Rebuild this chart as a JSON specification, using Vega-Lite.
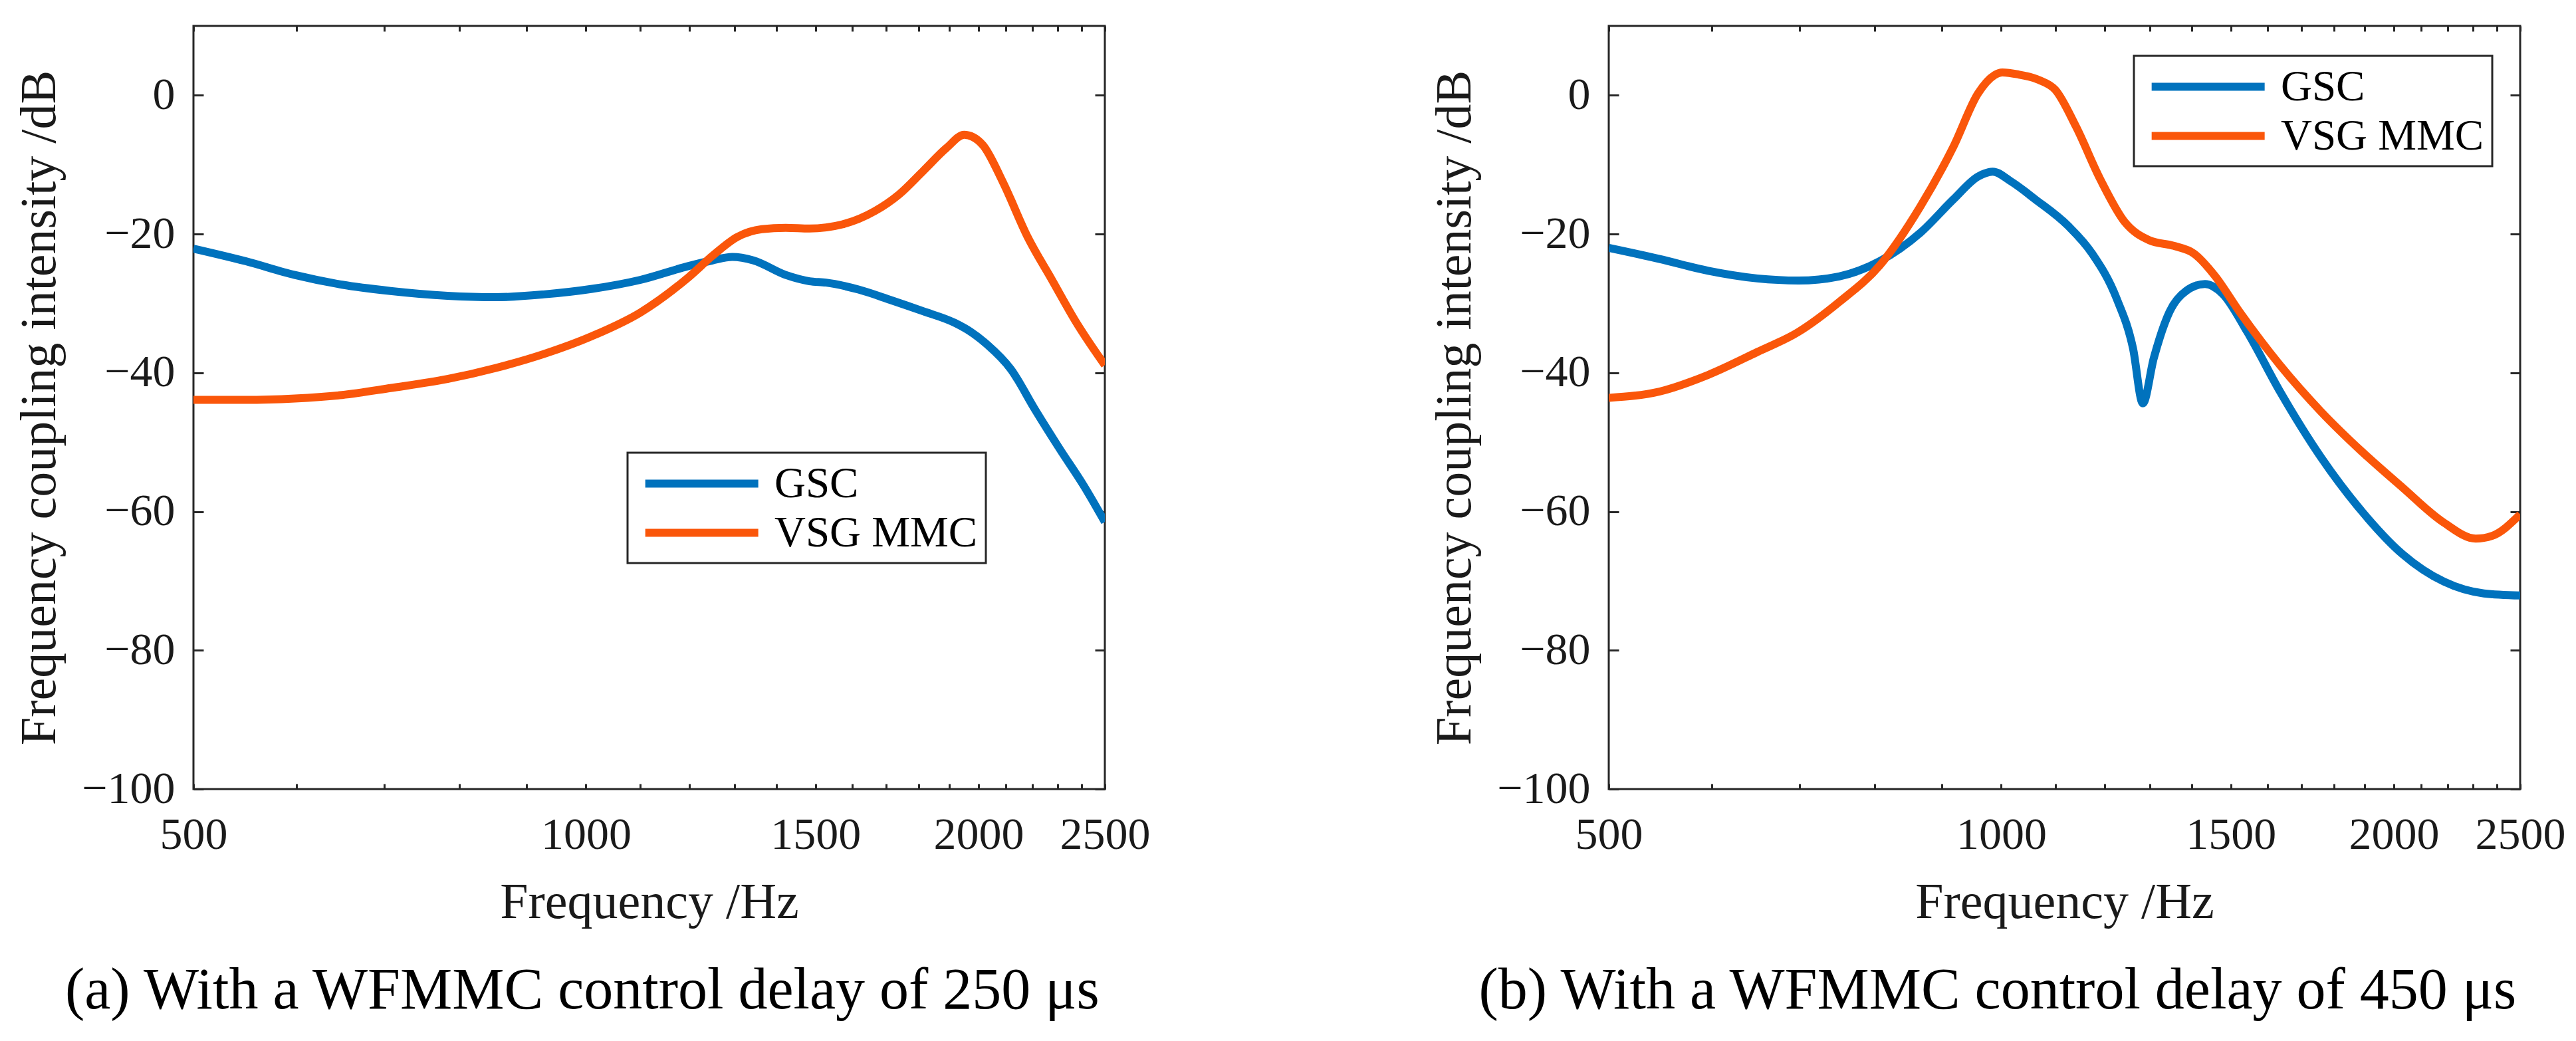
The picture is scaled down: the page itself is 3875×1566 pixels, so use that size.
{
  "$schema": "https://vega.github.io/schema/vega-lite/v6.json",
  "padding": {"left": 20, "top": 36, "right": 10, "bottom": 10},
  "background": "white",
  "datasets": {
    "curves": [
      {"panel": "a", "series": "GSC", "f": 500, "v": -22.1},
      {"panel": "a", "series": "GSC", "f": 548, "v": -23.9},
      {"panel": "a", "series": "GSC", "f": 598, "v": -25.9},
      {"panel": "a", "series": "GSC", "f": 650, "v": -27.3},
      {"panel": "a", "series": "GSC", "f": 708, "v": -28.2},
      {"panel": "a", "series": "GSC", "f": 783, "v": -28.9},
      {"panel": "a", "series": "GSC", "f": 853, "v": -29.1},
      {"panel": "a", "series": "GSC", "f": 928, "v": -28.7},
      {"panel": "a", "series": "GSC", "f": 1011, "v": -27.9},
      {"panel": "a", "series": "GSC", "f": 1101, "v": -26.6},
      {"panel": "a", "series": "GSC", "f": 1199, "v": -24.6},
      {"panel": "a", "series": "GSC", "f": 1250, "v": -23.8},
      {"panel": "a", "series": "GSC", "f": 1295, "v": -23.3},
      {"panel": "a", "series": "GSC", "f": 1344, "v": -23.8},
      {"panel": "a", "series": "GSC", "f": 1423, "v": -25.9},
      {"panel": "a", "series": "GSC", "f": 1484, "v": -26.8},
      {"panel": "a", "series": "GSC", "f": 1528, "v": -27.0},
      {"panel": "a", "series": "GSC", "f": 1618, "v": -28.0},
      {"panel": "a", "series": "GSC", "f": 1712, "v": -29.5},
      {"panel": "a", "series": "GSC", "f": 1812, "v": -31.1},
      {"panel": "a", "series": "GSC", "f": 1918, "v": -32.8},
      {"panel": "a", "series": "GSC", "f": 1973, "v": -34.1},
      {"panel": "a", "series": "GSC", "f": 2030, "v": -35.9},
      {"panel": "a", "series": "GSC", "f": 2118, "v": -39.5},
      {"panel": "a", "series": "GSC", "f": 2210, "v": -45.3},
      {"panel": "a", "series": "GSC", "f": 2309, "v": -51.0},
      {"panel": "a", "series": "GSC", "f": 2409, "v": -56.3},
      {"panel": "a", "series": "GSC", "f": 2500, "v": -61.5},
      {"panel": "a", "series": "VSG MMC", "f": 500, "v": -43.9},
      {"panel": "a", "series": "VSG MMC", "f": 548, "v": -43.9},
      {"panel": "a", "series": "VSG MMC", "f": 598, "v": -43.7},
      {"panel": "a", "series": "VSG MMC", "f": 650, "v": -43.2},
      {"panel": "a", "series": "VSG MMC", "f": 708, "v": -42.2},
      {"panel": "a", "series": "VSG MMC", "f": 783, "v": -40.9},
      {"panel": "a", "series": "VSG MMC", "f": 853, "v": -39.3},
      {"panel": "a", "series": "VSG MMC", "f": 928, "v": -37.3},
      {"panel": "a", "series": "VSG MMC", "f": 1011, "v": -34.7},
      {"panel": "a", "series": "VSG MMC", "f": 1101, "v": -31.3},
      {"panel": "a", "series": "VSG MMC", "f": 1199, "v": -26.2},
      {"panel": "a", "series": "VSG MMC", "f": 1251, "v": -23.1},
      {"panel": "a", "series": "VSG MMC", "f": 1307, "v": -20.4},
      {"panel": "a", "series": "VSG MMC", "f": 1364, "v": -19.3},
      {"panel": "a", "series": "VSG MMC", "f": 1423, "v": -19.1},
      {"panel": "a", "series": "VSG MMC", "f": 1484, "v": -19.2},
      {"panel": "a", "series": "VSG MMC", "f": 1573, "v": -18.6},
      {"panel": "a", "series": "VSG MMC", "f": 1665, "v": -16.7},
      {"panel": "a", "series": "VSG MMC", "f": 1738, "v": -14.3},
      {"panel": "a", "series": "VSG MMC", "f": 1812, "v": -11.0},
      {"panel": "a", "series": "VSG MMC", "f": 1890, "v": -7.6},
      {"panel": "a", "series": "VSG MMC", "f": 1950, "v": -5.7},
      {"panel": "a", "series": "VSG MMC", "f": 1980, "v": -6.0},
      {"panel": "a", "series": "VSG MMC", "f": 2016, "v": -7.2},
      {"panel": "a", "series": "VSG MMC", "f": 2088, "v": -12.5},
      {"panel": "a", "series": "VSG MMC", "f": 2181, "v": -20.4},
      {"panel": "a", "series": "VSG MMC", "f": 2277, "v": -26.6},
      {"panel": "a", "series": "VSG MMC", "f": 2378, "v": -32.8},
      {"panel": "a", "series": "VSG MMC", "f": 2500, "v": -38.9},
      {"panel": "b", "series": "GSC", "f": 500, "v": -22.0},
      {"panel": "b", "series": "GSC", "f": 547, "v": -23.6},
      {"panel": "b", "series": "GSC", "f": 596, "v": -25.3},
      {"panel": "b", "series": "GSC", "f": 650, "v": -26.4},
      {"panel": "b", "series": "GSC", "f": 699, "v": -26.7},
      {"panel": "b", "series": "GSC", "f": 751, "v": -26.1},
      {"panel": "b", "series": "GSC", "f": 807, "v": -23.9},
      {"panel": "b", "series": "GSC", "f": 867, "v": -19.8},
      {"panel": "b", "series": "GSC", "f": 919, "v": -15.0},
      {"panel": "b", "series": "GSC", "f": 960, "v": -11.7},
      {"panel": "b", "series": "GSC", "f": 985, "v": -11.0},
      {"panel": "b", "series": "GSC", "f": 1017, "v": -12.4},
      {"panel": "b", "series": "GSC", "f": 1062, "v": -15.0},
      {"panel": "b", "series": "GSC", "f": 1125, "v": -18.8},
      {"panel": "b", "series": "GSC", "f": 1174, "v": -22.8},
      {"panel": "b", "series": "GSC", "f": 1226, "v": -29.3},
      {"panel": "b", "series": "GSC", "f": 1262, "v": -36.5},
      {"panel": "b", "series": "GSC", "f": 1284, "v": -44.4},
      {"panel": "b", "series": "GSC", "f": 1309, "v": -37.9},
      {"panel": "b", "series": "GSC", "f": 1346, "v": -31.2},
      {"panel": "b", "series": "GSC", "f": 1386, "v": -28.2},
      {"panel": "b", "series": "GSC", "f": 1433, "v": -27.2},
      {"panel": "b", "series": "GSC", "f": 1478, "v": -28.6},
      {"panel": "b", "series": "GSC", "f": 1544, "v": -34.1},
      {"panel": "b", "series": "GSC", "f": 1636, "v": -42.7},
      {"panel": "b", "series": "GSC", "f": 1759, "v": -52.2},
      {"panel": "b", "series": "GSC", "f": 1889, "v": -59.9},
      {"panel": "b", "series": "GSC", "f": 2030, "v": -66.1},
      {"panel": "b", "series": "GSC", "f": 2185, "v": -70.1},
      {"panel": "b", "series": "GSC", "f": 2345, "v": -71.8},
      {"panel": "b", "series": "GSC", "f": 2500, "v": -72.1},
      {"panel": "b", "series": "VSG MMC", "f": 500, "v": -43.6},
      {"panel": "b", "series": "VSG MMC", "f": 547, "v": -42.7},
      {"panel": "b", "series": "VSG MMC", "f": 596, "v": -40.3},
      {"panel": "b", "series": "VSG MMC", "f": 650, "v": -37.0},
      {"panel": "b", "series": "VSG MMC", "f": 699, "v": -34.1},
      {"panel": "b", "series": "VSG MMC", "f": 751, "v": -29.8},
      {"panel": "b", "series": "VSG MMC", "f": 807, "v": -24.5},
      {"panel": "b", "series": "VSG MMC", "f": 867, "v": -16.0},
      {"panel": "b", "series": "VSG MMC", "f": 919, "v": -7.4},
      {"panel": "b", "series": "VSG MMC", "f": 960, "v": 0.3},
      {"panel": "b", "series": "VSG MMC", "f": 988, "v": 2.9},
      {"panel": "b", "series": "VSG MMC", "f": 1002, "v": 3.3},
      {"panel": "b", "series": "VSG MMC", "f": 1031, "v": 3.0},
      {"panel": "b", "series": "VSG MMC", "f": 1069, "v": 2.2},
      {"panel": "b", "series": "VSG MMC", "f": 1100, "v": 0.8},
      {"panel": "b", "series": "VSG MMC", "f": 1141, "v": -4.5},
      {"panel": "b", "series": "VSG MMC", "f": 1191, "v": -12.1},
      {"panel": "b", "series": "VSG MMC", "f": 1244, "v": -18.3},
      {"panel": "b", "series": "VSG MMC", "f": 1299, "v": -20.9},
      {"panel": "b", "series": "VSG MMC", "f": 1356, "v": -21.7},
      {"panel": "b", "series": "VSG MMC", "f": 1405, "v": -22.8},
      {"panel": "b", "series": "VSG MMC", "f": 1458, "v": -26.0},
      {"panel": "b", "series": "VSG MMC", "f": 1523, "v": -31.2},
      {"panel": "b", "series": "VSG MMC", "f": 1636, "v": -38.9},
      {"panel": "b", "series": "VSG MMC", "f": 1759, "v": -45.6},
      {"panel": "b", "series": "VSG MMC", "f": 1889, "v": -51.3},
      {"panel": "b", "series": "VSG MMC", "f": 2030, "v": -56.5},
      {"panel": "b", "series": "VSG MMC", "f": 2185, "v": -61.6},
      {"panel": "b", "series": "VSG MMC", "f": 2311, "v": -63.9},
      {"panel": "b", "series": "VSG MMC", "f": 2379, "v": -63.5},
      {"panel": "b", "series": "VSG MMC", "f": 2500, "v": -60.4}
    ]
  },
  "spacing": 758,
  "bounds": "flush",
  "resolve": {"legend": {"color": "independent"}},
  "hconcat": [
    {
      "width": 1371,
      "height": 1148,
      "data": {"name": "curves"},
      "transform": [{"filter": "datum.panel === 'a'"}],
      "title": {"text": "(a) With a WFMMC control delay of 250 μs"},
      "layer": [
        {
          "mark": {"type": "line", "strokeWidth": 12, "interpolate": "monotone", "clip": true},
          "encoding": {
            "x": {
              "field": "f",
              "type": "quantitative",
              "scale": {"type": "log", "domain": [500, 2500], "nice": false},
              "axis": {
                "orient": "bottom",
                "title": "Frequency /Hz",
                "values": [500, 600, 700, 800, 900, 1000, 1100, 1200, 1300, 1400, 1500, 1600, 1700, 1800, 1900, 2000, 2100, 2200, 2300, 2400, 2500],
                "format": "d",
                "labelExpr": "indexof([500, 1000, 1500, 2000, 2500], datum.value) >= 0 ? datum.label : ''",
                "tickSize": -8,
                "labelPadding": 43,
                "titlePadding": 30
              }
            },
            "y": {
              "field": "v",
              "type": "quantitative",
              "scale": {"domain": [-100, 10], "nice": false},
              "axis": {
                "orient": "left",
                "title": "Frequency coupling intensity /dB",
                "values": [-100, -80, -60, -40, -20, 0],
                "tickSize": -15,
                "labelPadding": 43,
                "titlePadding": 24
              }
            },
            "color": {
              "field": "series",
              "type": "nominal",
              "scale": {"domain": ["GSC", "VSG MMC"], "range": ["#0072BD", "#FA560A"]},
              "legend": {"legendX": 653, "legendY": 642}
            }
          }
        },
        {
          "mark": {"type": "line", "opacity": 0},
          "encoding": {
            "x": {
              "field": "f",
              "type": "quantitative",
              "axis": {
                "orient": "top",
                "title": null,
                "labels": false,
                "values": [500, 600, 700, 800, 900, 1000, 1100, 1200, 1300, 1400, 1500, 1600, 1700, 1800, 1900, 2000, 2100, 2200, 2300, 2400, 2500],
                "tickSize": -8
              }
            },
            "y": {
              "field": "v",
              "type": "quantitative",
              "axis": {
                "orient": "right",
                "title": null,
                "labels": false,
                "values": [-100, -80, -60, -40, -20, 0],
                "tickSize": -15
              }
            },
            "detail": {"field": "series"}
          }
        }
      ],
      "resolve": {"axis": {"x": "independent", "y": "independent"}}
    },
    {
      "width": 1371,
      "height": 1148,
      "data": {"name": "curves"},
      "transform": [{"filter": "datum.panel === 'b'"}],
      "title": {"text": "(b) With a WFMMC control delay of 450 μs"},
      "layer": [
        {
          "mark": {"type": "line", "strokeWidth": 12, "interpolate": "monotone", "clip": true},
          "encoding": {
            "x": {
              "field": "f",
              "type": "quantitative",
              "scale": {"type": "log", "domain": [500, 2500], "nice": false},
              "axis": {
                "orient": "bottom",
                "title": "Frequency /Hz",
                "values": [500, 600, 700, 800, 900, 1000, 1100, 1200, 1300, 1400, 1500, 1600, 1700, 1800, 1900, 2000, 2100, 2200, 2300, 2400, 2500],
                "format": "d",
                "labelExpr": "indexof([500, 1000, 1500, 2000, 2500], datum.value) >= 0 ? datum.label : ''",
                "tickSize": -8,
                "labelPadding": 43,
                "titlePadding": 30
              }
            },
            "y": {
              "field": "v",
              "type": "quantitative",
              "scale": {"domain": [-100, 10], "nice": false},
              "axis": {
                "orient": "left",
                "title": "Frequency coupling intensity /dB",
                "values": [-100, -80, -60, -40, -20, 0],
                "tickSize": -15,
                "labelPadding": 43,
                "titlePadding": 24
              }
            },
            "color": {
              "field": "series",
              "type": "nominal",
              "scale": {"domain": ["GSC", "VSG MMC"], "range": ["#0072BD", "#FA560A"]},
              "legend": {"legendX": 790, "legendY": 45}
            }
          }
        },
        {
          "mark": {"type": "line", "opacity": 0},
          "encoding": {
            "x": {
              "field": "f",
              "type": "quantitative",
              "axis": {
                "orient": "top",
                "title": null,
                "labels": false,
                "values": [500, 600, 700, 800, 900, 1000, 1100, 1200, 1300, 1400, 1500, 1600, 1700, 1800, 1900, 2000, 2100, 2200, 2300, 2400, 2500],
                "tickSize": -8
              }
            },
            "y": {
              "field": "v",
              "type": "quantitative",
              "axis": {
                "orient": "right",
                "title": null,
                "labels": false,
                "values": [-100, -80, -60, -40, -20, 0],
                "tickSize": -15
              }
            },
            "detail": {"field": "series"}
          }
        }
      ],
      "resolve": {"axis": {"x": "independent", "y": "independent"}}
    }
  ],
  "config": {
    "font": "Liberation Serif",
    "view": {"stroke": "#262626", "strokeWidth": 3},
    "axis": {
      "grid": false,
      "domain": false,
      "ticks": true,
      "tickColor": "#262626",
      "tickWidth": 3,
      "labelFont": "Liberation Serif",
      "labelFontSize": 68,
      "labelColor": "#1a1a1a",
      "labelOverlap": false,
      "labelFlush": false,
      "titleFont": "Liberation Serif",
      "titleFontSize": 76,
      "titleFontWeight": "normal",
      "titleColor": "#1a1a1a"
    },
    "legend": {
      "orient": "none",
      "direction": "vertical",
      "title": null,
      "symbolType": "M-0.7,0H5.3",
      "symbolSize": 3211,
      "symbolStrokeWidth": 12,
      "labelFont": "Liberation Serif",
      "labelFontSize": 65,
      "labelColor": "#000000",
      "labelOffset": 140,
      "labelLimit": 0,
      "rowPadding": 6,
      "padding": 12,
      "strokeColor": "#262626",
      "strokeWidth": 3,
      "fillColor": "white"
    },
    "title": {
      "orient": "bottom",
      "anchor": "middle",
      "frame": "bounds",
      "font": "Liberation Serif",
      "fontSize": 88,
      "fontWeight": "normal",
      "color": "#000000",
      "offset": 52
    }
  }
}
